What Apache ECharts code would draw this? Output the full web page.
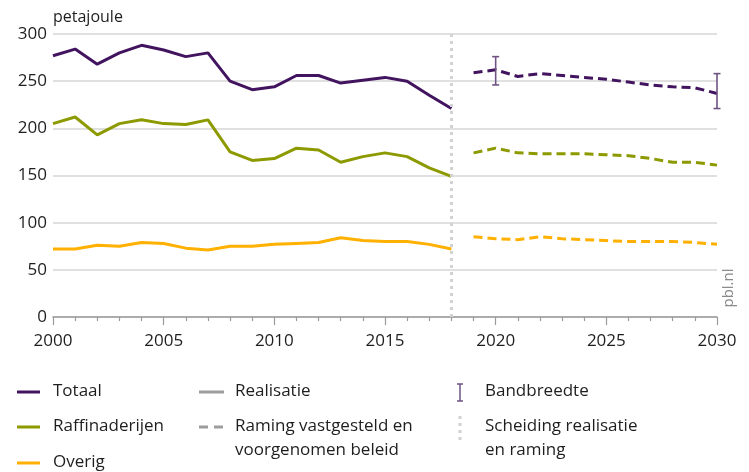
<!DOCTYPE html>
<html>
<head>
<meta charset="utf-8">
<script src="https://cdn.jsdelivr.net/npm/echarts@6/dist/echarts.min.js"></script>
<style>
  html, body { margin: 0; padding: 0; background: #fff; }
  #chart { width: 749px; height: 472px; }
</style>
</head>
<body>
<div id="chart"></div>
<script>
// Energieverbruik in petajoule: realisatie 2000-2018, raming 2019-2030
const histYears = [2000, 2001, 2002, 2003, 2004, 2005, 2006, 2007, 2008, 2009,
                   2010, 2011, 2012, 2013, 2014, 2015, 2016, 2017, 2018];
const totaalHist = [277, 284, 268, 280, 288, 283, 276, 280, 250, 241,
                    244, 256, 256, 248, 251, 254, 250, 235, 221];
const raffHist = [205, 212, 193, 205, 209, 205, 204, 209, 175, 166,
                  168, 179, 177, 164, 170, 174, 170, 158, 149];
const overigHist = [72, 72, 76, 75, 79, 78, 73, 71, 75, 75,
                    77, 78, 79, 84, 81, 80, 80, 77, 72];

const projYears = [2019, 2020, 2021, 2022, 2023, 2024, 2025, 2026, 2027, 2028, 2029, 2030];
const totaalProj = [259, 262, 255, 258, 256, 254, 252, 249, 246, 244, 243, 237];
const raffProj = [174, 179, 174, 173, 173, 173, 172, 171, 168, 164, 164, 161];
const overigProj = [85, 83, 82, 85, 83, 82, 81, 80, 80, 80, 79, 77];

// Bandbreedte van de raming voor het totaal
const bandYears = [2020, 2030];
const bandLow = [246, 221];
const bandHigh = [276, 258];

const splitYear = 2018;
const yTicks = [0, 50, 100, 150, 200, 250, 300];

const colTotaal = '#42145f';
const colRaff = '#8c9a00';
const colOverig = '#ffb000';
const colBand = '#6f5384';
const fontFam = '"Open Sans", "Noto Sans", sans-serif';

const pairs = (xs, ys) => xs.map((x, i) => [x, ys[i]]);

function solid(name, color, data, extra) {
  return Object.assign({
    name, type: 'line', data, symbol: 'none', silent: true,
    lineStyle: { color, width: 3 }, z: 3
  }, extra || {});
}
function dashed(name, color, data) {
  return {
    name, type: 'line', data, symbol: 'none', silent: true,
    lineStyle: { color, width: 3, type: [9, 5] }, z: 3
  };
}

const chart = echarts.init(document.getElementById('chart'), null, { renderer: 'canvas' });

const legendText = (x, y, text) => ({
  type: 'text', x, y,
  style: { text, fill: '#1e1e1e', font: '17px ' + fontFam, textAlign: 'left', textVerticalAlign: 'middle' }
});
const legendLine = (x1, x2, y, color, dash) => ({
  type: 'line', shape: { x1, y1: y, x2, y2: y },
  style: { stroke: color, lineWidth: 3, lineDash: dash || null }
});

const option = {
  animation: false,
  backgroundColor: '#fff',
  grid: { left: 53, right: 32, top: 34, bottom: 155 },
  xAxis: {
    type: 'value', min: 2000, max: 2030, interval: 5,
    axisLine: { show: true, lineStyle: { color: '#9a9a9a', width: 1.5 } },
    axisTick: { show: true, length: 8, lineStyle: { color: '#9a9a9a', width: 1.2 } },
    minorTick: { show: true, splitNumber: 5, length: 4, lineStyle: { color: '#9a9a9a', width: 1.2 } },
    splitLine: { show: false },
    axisLabel: { color: '#1e1e1e', fontSize: 17, fontFamily: fontFam, margin: 16, formatter: v => String(v) }
  },
  yAxis: {
    type: 'value', min: yTicks[0], max: yTicks[yTicks.length - 1], interval: 50,
    name: 'petajoule',
    nameLocation: 'end', nameGap: 9,
    nameTextStyle: { color: '#1e1e1e', fontSize: 16, fontFamily: fontFam, align: 'left' },
    axisLine: { show: false },
    axisTick: { show: false },
    splitLine: { lineStyle: { color: '#d6d6d6', width: 1.5 } },
    axisLabel: { color: '#1e1e1e', fontSize: 17, fontFamily: fontFam, margin: 6 }
  },
  series: [
    solid('Totaal', colTotaal, pairs(histYears, totaalHist), {
      markLine: {
        silent: true, symbol: 'none', label: { show: false },
        lineStyle: { color: '#d2d2d2', width: 3, type: [3, 4] },
        data: [{ xAxis: splitYear }]
      }
    }),
    solid('Raffinaderijen', colRaff, pairs(histYears, raffHist)),
    solid('Overig', colOverig, pairs(histYears, overigHist)),
    dashed('Totaal raming', colTotaal, pairs(projYears, totaalProj)),
    dashed('Raffinaderijen raming', colRaff, pairs(projYears, raffProj)),
    dashed('Overig raming', colOverig, pairs(projYears, overigProj)),
    {
      name: 'Bandbreedte', type: 'custom', silent: true, z: 4,
      data: bandYears.map((y, i) => [y, bandLow[i], bandHigh[i]]),
      renderItem: function (params, api) {
        const lo = api.coord([api.value(0), api.value(1)]);
        const hi = api.coord([api.value(0), api.value(2)]);
        const w = 3.5;
        const st = { stroke: colBand, lineWidth: 1.6 };
        return {
          type: 'group', children: [
            { type: 'line', shape: { x1: lo[0], y1: lo[1], x2: hi[0], y2: hi[1] }, style: st },
            { type: 'line', shape: { x1: hi[0] - w, y1: hi[1], x2: hi[0] + w, y2: hi[1] }, style: st },
            { type: 'line', shape: { x1: lo[0] - w, y1: lo[1], x2: lo[0] + w, y2: lo[1] }, style: st }
          ]
        };
      }
    }
  ],
  graphic: [
    {
      type: 'text', x: 729, y: 288, rotation: Math.PI / 2,
      style: { text: 'pbl.nl', fill: '#8a8a8a', font: '15px ' + fontFam, textAlign: 'center', textVerticalAlign: 'middle' }
    },
    // Legenda, kolom 1
    legendLine(17, 40, 392, colTotaal),
    legendText(53, 391, 'Totaal'),
    legendLine(17, 40, 427, colRaff),
    legendText(53, 426, 'Raffinaderijen'),
    legendLine(17, 40, 463, colOverig),
    legendText(53, 462, 'Overig'),
    // kolom 2
    legendLine(199, 224, 392, '#9d9d9d'),
    legendText(235, 391, 'Realisatie'),
    legendLine(199, 224, 427, '#9d9d9d', [9, 6]),
    legendText(235, 426, 'Raming vastgesteld en'),
    legendText(235, 450, 'voorgenomen beleid'),
    // kolom 3
    { type: 'line', shape: { x1: 460, y1: 384, x2: 460, y2: 401 }, style: { stroke: colBand, lineWidth: 1.5 } },
    { type: 'line', shape: { x1: 457, y1: 384, x2: 463, y2: 384 }, style: { stroke: colBand, lineWidth: 1.5 } },
    { type: 'line', shape: { x1: 457, y1: 401, x2: 463, y2: 401 }, style: { stroke: colBand, lineWidth: 1.5 } },
    legendText(485, 391, 'Bandbreedte'),
    { type: 'line', shape: { x1: 460, y1: 416, x2: 460, y2: 442 }, style: { stroke: '#d2d2d2', lineWidth: 3, lineDash: [3, 4] } },
    legendText(485, 426, 'Scheiding realisatie'),
    legendText(485, 450, 'en raming')
  ]
};

chart.setOption(option);
</script>
</body>
</html>
